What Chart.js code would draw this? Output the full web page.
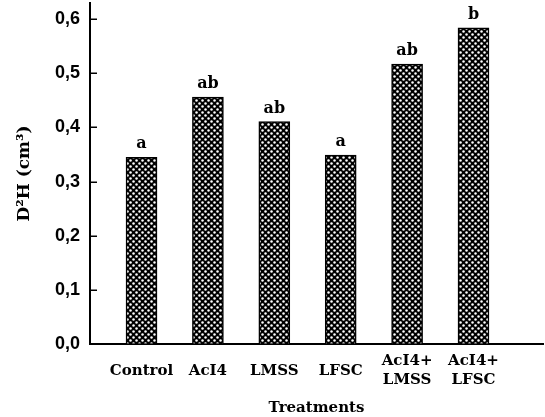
<!DOCTYPE html>
<html>
<head>
<meta charset="utf-8">
<script src="https://cdn.jsdelivr.net/npm/chart.js@4"></script>
<style>
  html, body { margin: 0; padding: 0; background: #fff; }
  #wrap { width: 545px; height: 417px; }
</style>
</head>
<body>
<div id="wrap"><canvas id="c" width="545" height="417"></canvas></div>
<script>
const categories = ['Control', 'AcI4', 'LMSS', 'LFSC', 'AcI4+\nLMSS', 'AcI4+\nLFSC'];
const values = [0.345, 0.456, 0.411, 0.349, 0.517, 0.584];
const letters = ['a', 'ab', 'ab', 'a', 'ab', 'b'];
const yTicks = [0, 0.1, 0.2, 0.3, 0.4, 0.5, 0.6];

function makePattern() {
  const p = document.createElement('canvas');
  p.width = 6; p.height = 6;
  const g = p.getContext('2d');
  g.fillStyle = '#000';
  g.fillRect(0, 0, 6, 6);
  g.fillStyle = '#fff';
  g.beginPath(); g.arc(1.5, 1.5, 1.25, 0, Math.PI * 2); g.fill();
  g.beginPath(); g.arc(4.5, 4.5, 1.25, 0, Math.PI * 2); g.fill();
  return document.getElementById('c').getContext('2d').createPattern(p, 'repeat');
}

const letterPlugin = {
  id: 'letters',
  afterDatasetsDraw(chart) {
    const ctx = chart.ctx;
    const meta = chart.getDatasetMeta(0);
    ctx.save();
    ctx.font = 'bold 16px "DejaVu Serif"';
    ctx.fillStyle = '#000';
    ctx.textAlign = 'center';
    ctx.textBaseline = 'alphabetic';
    meta.data.forEach((bar, i) => {
      ctx.fillText(letters[i], bar.x, bar.y - 9);
    });
    ctx.restore();
  }
};

const innerTicks = {
  id: 'innerTicks',
  afterDraw(chart) {
    const s = chart.scales.y;
    const ctx = chart.ctx;
    ctx.save();
    ctx.strokeStyle = '#000';
    ctx.lineWidth = 1.5;
    yTicks.forEach(v => {
      const y = Math.round(s.getPixelForValue(v)) + 0.25;
      ctx.beginPath();
      ctx.moveTo(s.right, y);
      ctx.lineTo(s.right + 7, y);
      ctx.stroke();
    });
    ctx.restore();
  }
};

new Chart(document.getElementById('c'), {
  type: 'bar',
  data: {
    datasets: [{
      data: values.map((v, i) => ({ x: i, y: v })),
      backgroundColor: makePattern(),
      borderColor: '#000',
      borderWidth: 1.5,
      barThickness: 31
    }]
  },
  plugins: [letterPlugin, innerTicks],
  options: {
    responsive: false,
    animation: false,
    layout: { padding: { top: 3, right: 2, left: 0, bottom: 0 } },
    plugins: { legend: { display: false }, tooltip: { enabled: false } },
    scales: {
      x: {
        type: 'linear',
        offset: false,
        min: -0.776,
        max: 6.047,
        afterBuildTicks: (s) => { s.ticks = categories.map((_, i) => ({ value: i })); },
        afterFit: (s) => { s.height = 73; s.paddingLeft = 0; s.paddingRight = 0; },
        grid: { display: true, drawOnChartArea: false, drawTicks: false },
        border: { display: true, color: '#000', width: 2 },
        ticks: {
          autoSkip: false,
          maxRotation: 0,
          minRotation: 0,
          crossAlign: 'center',
          padding: 17,
          color: '#000',
          font: { family: '"DejaVu Serif"', size: 15, weight: 'bold', lineHeight: 1.3 },
          callback: (v) => {
            const l = categories[Math.round(v)];
            return l ? l.split('\n') : '';
          }
        },
        title: {
          display: true,
          text: 'Treatments',
          color: '#000',
          font: { family: '"DejaVu Serif"', size: 15, weight: 'bold' },
          padding: { top: 0, bottom: 0 }
        }
      },
      y: {
        min: 0,
        max: 0.63,
        afterBuildTicks: (s) => { s.ticks = yTicks.map(v => ({ value: v })); },
        afterFit: (s) => { s.width = 90; s.paddingTop = 0; s.paddingBottom = 0; },
        grid: { display: true, drawOnChartArea: false, drawTicks: false },
        border: { display: true, color: '#000', width: 2 },
        ticks: {
          padding: 10,
          color: '#000',
          font: { family: '"Liberation Sans"', size: 18, weight: 'bold' },
          callback: (v) => v.toFixed(1).replace('.', ',')
        },
        title: {
          display: true,
          text: 'D²H (cm³)',
          color: '#000',
          font: { family: '"DejaVu Serif"', size: 17, weight: 'bold' },
          padding: { top: 14, bottom: 0 }
        }
      }
    }
  }
});
</script>
</body>
</html>
